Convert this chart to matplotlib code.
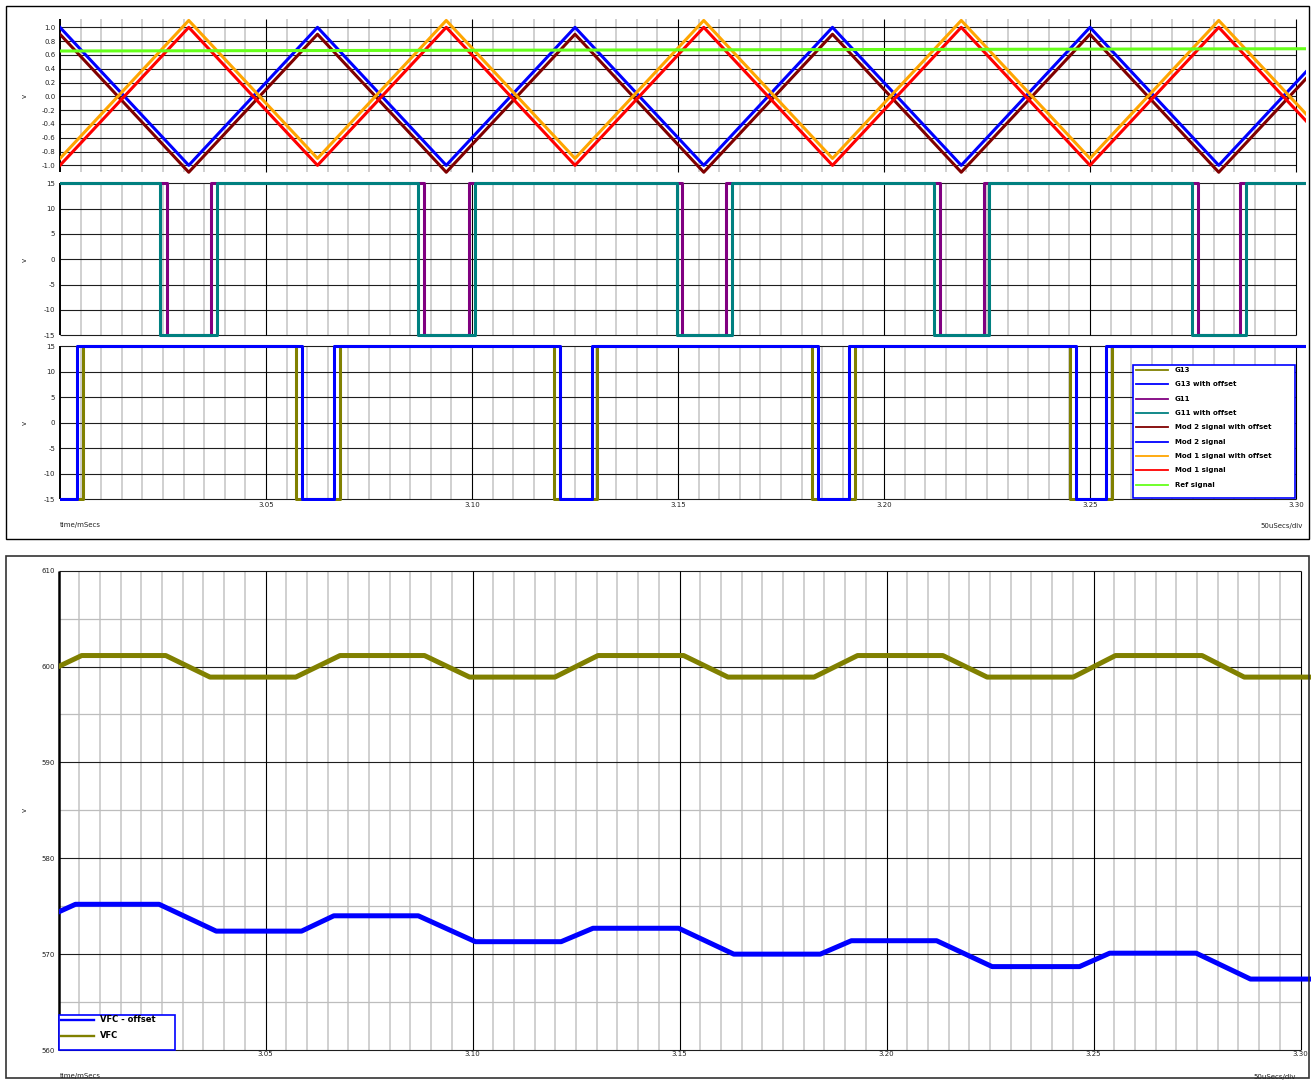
"""
inverter scope capture: carriers vs reference, gate signals,
and the VFC rail below
"""

import numpy as np
import matplotlib.pyplot as plt
import matplotlib.transforms as mtransforms
from matplotlib.lines import Line2D
from matplotlib.patches import Rectangle

plt.rcParams['axes.unicode_minus'] = False

W, H = 1311, 1082
T_START, T_END = 3.0, 3.3025
HI, LO = 15, -15

# carrier vertices (peaks / troughs), time in ms
mod_t = [3.0, 3.03125, 3.0625, 3.09375, 3.125, 3.15625, 3.1875,
         3.21875, 3.25, 3.28125, 3.3025]
mod2 = [1.0, -1.0, 1.0, -1.0, 1.0, -1.0, 1.0, -1.0, 1.0, -1.0, 0.36]
mod2_offset = [0.9, -1.1, 0.9, -1.1, 0.9, -1.1, 0.9, -1.1, 0.9, -1.1, 0.26]
mod1 = [-1.0, 1.0, -1.0, 1.0, -1.0, 1.0, -1.0, 1.0, -1.0, 1.0, -0.36]
mod1_offset = [-0.9, 1.1, -0.9, 1.1, -0.9, 1.1, -0.9, 1.1, -0.9, 1.1, -0.26]
ref_t = [3.0, 3.3025]
ref = [0.657, 0.690]

# gate signals: spans (start, end) where the gate sits at -15 V
g11_low = [(3.0259, 3.0366), (3.0884, 3.0993), (3.1510, 3.1617),
           (3.2136, 3.2243), (3.2762, 3.2864)]
g11_off_low = [(3.0243, 3.0381), (3.0869, 3.1007), (3.1498, 3.1631),
               (3.2121, 3.2255), (3.2748, 3.2879)]
g13_low = [(3.0, 3.0056), (3.0573, 3.0680), (3.1199, 3.1303),
           (3.1825, 3.1930), (3.2451, 3.2553)]
g13_off_low = [(3.0, 3.0041), (3.0587, 3.0665), (3.1214, 3.1291),
               (3.1840, 3.1915), (3.2466, 3.2539)]

# VFC rail
vfc_t = [3.0, 3.0056, 3.0259, 3.0366, 3.0573, 3.0680, 3.0884, 3.0993,
         3.1199, 3.1303, 3.1510, 3.1617, 3.1825, 3.1930, 3.2136, 3.2243,
         3.2451, 3.2553, 3.2762, 3.2864, 3.3025]
vfc = [600.0, 601.15, 601.15, 598.9, 598.9, 601.15, 601.15, 598.9,
       598.9, 601.15, 601.15, 598.9, 598.9, 601.15, 601.15, 598.9,
       598.9, 601.15, 601.15, 598.9, 598.9]
vfc_off_t = [3.0, 3.0041, 3.0243, 3.0381, 3.0587, 3.0665, 3.0869, 3.1007,
             3.1214, 3.1291, 3.1498, 3.1631, 3.1840, 3.1915, 3.2121, 3.2255,
             3.2466, 3.2539, 3.2748, 3.2879, 3.3025]
vfc_off = [574.4, 575.2, 575.2, 572.4, 572.4, 574.0, 574.0, 571.3,
           571.3, 572.7, 572.7, 570.0, 570.0, 571.4, 571.4, 568.7,
           568.7, 570.1, 570.1, 567.4, 567.4]

carrier_ticks = [-1.0, -0.8, -0.6, -0.4, -0.2, 0.0, 0.2, 0.4, 0.6, 0.8, 1.0]
gate_ticks = [-15, -10, -5, 0, 5, 10, 15]
vfc_ticks = [560, 570, 580, 590, 600, 610]
x_ticks = [3.05, 3.10, 3.15, 3.20, 3.25, 3.30]
x_labels = ['3.05', '3.10', '3.15', '3.20', '3.25', '3.30']

BLUE = '#0000ff'
MAROON = '#800000'
ORANGE = '#ffa500'
RED = '#ff0000'
GREEN = '#66ff1a'
TEAL = '#008080'
PURPLE = '#800080'
OLIVE = '#808000'


def gate_trace(spans):
    """ square wave through the low spans """
    t, v = [], []
    for a, b in spans:
        t += [a, a, b, b]
        v += [HI, LO, LO, HI]
    if t[0] <= T_START:
        t, v = t[1:], v[1:]
    else:
        t, v = [T_START] + t, [HI] + v
    t.append(T_END)
    v.append(HI)
    return t, v


def add_axes(fig, left, top, right, bottom):
    """ axes placed by pixel edges """
    return fig.add_axes([left / W, 1 - bottom / H,
                         (right - left) / W, (bottom - top) / H])


def scope_grid(ax, y_major, y_lo, y_hi, y_minor=(), lw_axis=1.4):
    xs = np.round(np.arange(3.0, 3.3001, 0.005), 3)
    major = [x for x in xs if round(x * 1000) % 50 == 0]
    minor = [x for x in xs if round(x * 1000) % 50 != 0]
    ax.vlines(minor, y_lo, y_hi, color='#c8c8c8', lw=1.2, zorder=1)
    if len(y_minor):
        ax.hlines(y_minor, 3.0, 3.30, color='#bdbdbd', lw=0.9, zorder=1.2)
    ax.hlines(y_major, 3.0, 3.30, color='#1e1e1e', lw=0.8, zorder=1.5,
              clip_on=False)
    ax.vlines(major[1:], y_lo, y_hi, color='black', lw=0.8, zorder=1.5)
    ax.vlines(3.0, y_lo, y_hi, color='black', lw=lw_axis, zorder=1.6,
              clip_on=False)
    for s in ax.spines.values():
        s.set_visible(False)
    ax.set_xlim(T_START, T_END)
    ax.set_yticks(y_major)
    ax.tick_params(length=0, labelsize=5, colors='#222222')
    ax.set_xticks([])


fig = plt.figure(figsize=(W / 100, H / 100), dpi=100)
px = mtransforms.Affine2D().scale(1 / W, -1 / H).translate(0, 1) + fig.transFigure

# carriers and reference
ax1 = add_axes(fig, 60, 16.3, 1306.3, 175)
scope_grid(ax1, carrier_ticks, -1.1, 1.116)
ax1.set_ylim(-1.14, 1.16)
ax1.set_yticklabels(['%.1f' % y for y in carrier_ticks])
ax1.tick_params(axis='y', pad=3.4)
ax1.plot(mod_t, mod2_offset, color=MAROON, lw=2.2, zorder=3)
ax1.plot(mod_t, mod2, color=BLUE, lw=2.2, zorder=3)
ax1.plot(mod_t, mod1_offset, color=ORANGE, lw=2.2, zorder=3)
ax1.plot(mod_t, mod1, color=RED, lw=2.2, zorder=3)
ax1.plot(ref_t, ref, color=GREEN, lw=2.2, zorder=4)

# G11 gates
ax2 = add_axes(fig, 60, 180.8, 1306.3, 337.8)
scope_grid(ax2, gate_ticks, -15, 15)
ax2.set_ylim(-15.5, 15.5)
ax2.tick_params(axis='y', pad=3.4)
ax2.plot(*gate_trace(g11_low), color=PURPLE, lw=2.2, zorder=3)
ax2.plot(*gate_trace(g11_off_low), color=TEAL, lw=2.2, zorder=4)

# G13 gates
ax3 = add_axes(fig, 60, 344.2, 1306.3, 501.4)
scope_grid(ax3, gate_ticks, -15, 15)
ax3.set_ylim(-15.4, 15.4)
ax3.tick_params(axis='y', pad=3.4)
ax3.tick_params(axis='x', pad=0.4)
ax3.set_xticks(x_ticks)
ax3.set_xticklabels(x_labels)
ax3.plot(*gate_trace(g13_low), color=OLIVE, lw=2.2, zorder=3)
ax3.plot(*gate_trace(g13_off_low), color=BLUE, lw=2.2, zorder=4)

# VFC
ax4 = add_axes(fig, 58.5, 570.7, 1310.9, 1050)
scope_grid(ax4, vfc_ticks, 560, 610,
           y_minor=[565, 575, 585, 595, 605], lw_axis=1.8)
ax4.set_ylim(560, 610)
ax4.tick_params(axis='y', pad=2.5)
ax4.tick_params(axis='x', pad=0.8)
ax4.set_xticks(x_ticks)
ax4.set_xticklabels(x_labels)
ax4.plot(vfc_t, vfc, color=OLIVE, lw=3.6, zorder=3)
ax4.plot(vfc_off_t, vfc_off, color=BLUE, lw=3.6, zorder=3)

# frames round the two captures
fig.add_artist(Rectangle((6, 6), 1303, 533, transform=px, fill=False,
                         ec='black', lw=1.0))
fig.add_artist(Rectangle((6, 556), 1303, 522, transform=px, fill=False,
                         ec='#333333', lw=1.2))

# axis captions
for y in (96, 260, 423, 810):
    fig.text(25, y, 'v', transform=px, rotation=90, fontsize=5,
             ha='center', va='center', color='#222222')
for y_top, x_right in ((525, 1303), (1076, 1296)):
    fig.text(60, y_top, 'time/mSecs', transform=px, fontsize=5,
             va='center', color='#222222')
    fig.text(x_right, y_top + 1, '50uSecs/div', transform=px, fontsize=5,
             ha='right', va='center', color='#222222')


def draw_legend(entries, box, x_line, x_text, y0, dy, fontsize, lw):
    l, t, r, b = box
    fig.add_artist(Rectangle((l, t), r - l, b - t, transform=px,
                             fc='white', ec=BLUE, lw=1.2, zorder=5))
    for i, (name, color) in enumerate(entries):
        y = y0 + i * dy
        fig.add_artist(Line2D(x_line, [y, y], color=color, lw=lw,
                              transform=px, zorder=6))
        fig.text(x_text, y, name, transform=px, fontsize=fontsize,
                 fontweight='bold', va='center', zorder=6)


draw_legend([('G13', OLIVE), ('G13 with offset', BLUE), ('G11', PURPLE),
             ('G11 with offset', TEAL), ('Mod 2 signal with offset', MAROON),
             ('Mod 2 signal', BLUE), ('Mod 1 signal with offset', ORANGE),
             ('Mod 1 signal', RED), ('Ref signal', GREEN)],
            (1133, 365, 1295, 498), [1136, 1168], 1175, 369.8, 14.38, 5, 1.3)
draw_legend([('VFC - offset', BLUE), ('VFC', OLIVE)],
            (59, 1015, 174.5, 1049.5), [61, 94], 100, 1020, 15.6, 6, 1.7)

plt.savefig('out.png', dpi=100)
